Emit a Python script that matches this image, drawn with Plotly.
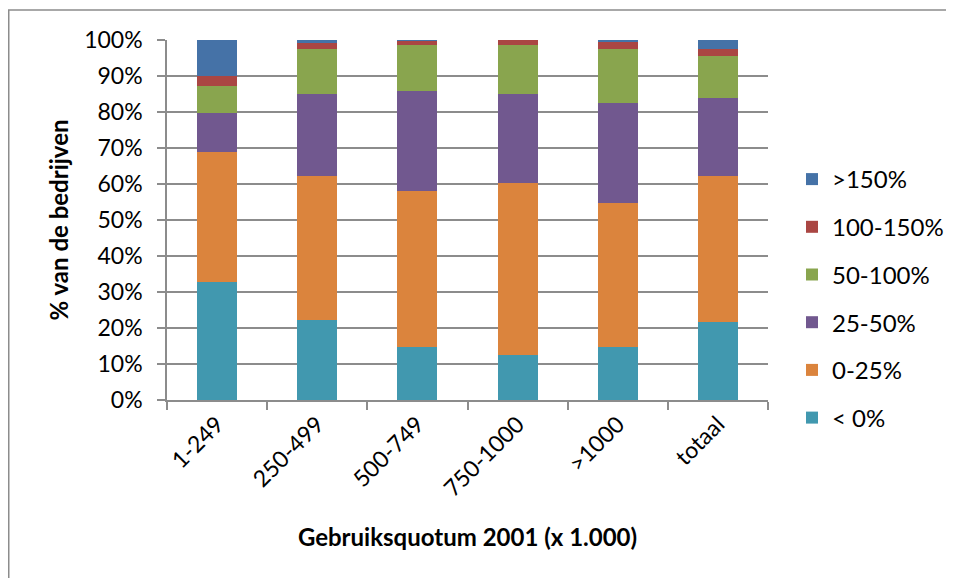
import plotly.graph_objects as go

categories = ["1-249", "250-499", "500-749", "750-1000", ">1000", "totaal"]

# share of companies per class (%)
below_0 = [32.9, 22.1, 14.6, 12.5, 14.8, 21.8]
pct_0_25 = [35.9, 40.2, 43.5, 47.7, 40.0, 40.5]
pct_25_50 = [11.0, 22.6, 27.6, 24.9, 27.7, 21.7]
pct_50_100 = [7.4, 12.6, 12.8, 13.6, 15.0, 11.5]
pct_100_150 = [2.8, 1.7, 1.3, 1.3, 2.2, 1.9]
above_150 = [10.0, 0.8, 0.2, 0.0, 0.3, 2.6]

SERIES = [
    ("< 0%", below_0, "#4198AF"),
    ("0-25%", pct_0_25, "#DB843D"),
    ("25-50%", pct_25_50, "#71588F"),
    ("50-100%", pct_50_100, "#89A54E"),
    ("100-150%", pct_100_150, "#AA4643"),
    (">150%", above_150, "#4572A7"),
]

FONT = "Lato, 'Open Sans', sans-serif"
GRID = "#8c8c8c"

fig = go.Figure()
for i, (name, values, color) in enumerate(SERIES):
    fig.add_trace(
        go.Bar(
            x=categories,
            y=values,
            name=name,
            legendgroup=name,
            legendrank=100 - i,
            marker={"color": color, "line": {"width": 0}},
        )
    )

# page body has an 8px margin, so the figure is drawn 8px smaller and shifted
OFF = 8
W, H = 954 - OFF, 578 - OFF
L, T = 167 - OFF, 40 - OFF
pw, ph = 601, 360
R, B = W - L - pw, H - T - ph


def px_x(sx):
    return (sx - OFF - L) / pw


def px_y(sy):
    return (T + ph - (sy - OFF)) / ph


fig.update_layout(
    width=W,
    height=H,
    barmode="stack",
    bargap=0.6,
    margin={"l": L, "r": R, "t": T, "b": B, "autoexpand": False},
    paper_bgcolor="white",
    plot_bgcolor="white",
    font={"family": FONT, "size": 23, "color": "black"},
    showlegend=True,
    legend={
        "x": px_x(792),
        "xanchor": "left",
        "y": px_y(157),
        "yanchor": "top",
        "traceorder": "grouped",
        "tracegroupgap": 13.5,
        "font": {"size": 24},
        "bgcolor": "rgba(0,0,0,0)",
    },
    shapes=[
        {
            "type": "rect",
            "xref": "paper",
            "yref": "paper",
            "x0": px_x(8.75),
            "x1": px_x(990),
            "y0": px_y(620),
            "y1": px_y(10),
            "line": {"color": "#8c8c8c", "width": 1.5},
            "layer": "below",
        }
    ],
)

fig.update_yaxes(
    range=[0, 100],
    dtick=10,
    ticksuffix="%",
    showgrid=True,
    gridcolor=GRID,
    gridwidth=1.5,
    zeroline=False,
    showline=True,
    linecolor=GRID,
    linewidth=1.5,
    ticks="outside",
    ticklen=8,
    tickwidth=1.5,
    tickcolor=GRID,
    ticklabelstandoff=10,
    title={
        "text": "<b>% van de bedrijven</b>",
        "font": {"size": 24},
        "standoff": 9,
    },
)

fig.update_xaxes(
    showline=True,
    linecolor=GRID,
    linewidth=1.5,
    ticks="outside",
    tickson="boundaries",
    ticklen=8,
    tickwidth=1.5,
    tickcolor=GRID,
    tickangle=-45,
    title={
        "text": "<b>Gebruiksquotum 2001 (x 1.000)</b>",
        "font": {"size": 24},
        "standoff": 29,
    },
)

fig.write_html("out.html")
